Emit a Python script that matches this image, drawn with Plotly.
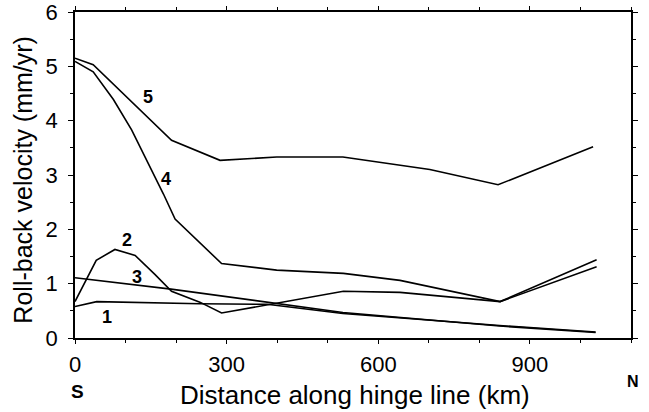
import plotly.graph_objects as go

# Series data (distance km, roll-back velocity mm/yr)
x5 = [0, 36, 191, 287, 399, 530, 702, 837, 1025]
y5 = [5.15, 5.03, 3.64, 3.27, 3.33, 3.33, 3.10, 2.82, 3.52]

x4 = [0, 36, 76, 112, 175, 198, 290, 399, 531, 643, 841, 1032]
y4 = [5.09, 4.90, 4.39, 3.83, 2.65, 2.19, 1.37, 1.25, 1.19, 1.06, 0.67, 1.44]

x2 = [0, 42, 79, 119, 158, 191, 247, 290, 531, 643, 841, 1032]
y2 = [0.67, 1.43, 1.63, 1.52, 1.17, 0.86, 0.66, 0.46, 0.86, 0.84, 0.67, 1.31]

x3 = [0, 190, 530, 840, 1030]
y3 = [1.11, 0.90, 0.47, 0.22, 0.10]

x1 = [0, 43, 247, 380, 530, 840, 1030]
y1 = [0.58, 0.67, 0.63, 0.62, 0.45, 0.23, 0.11]

series = [(x1, y1), (x2, y2), (x3, y3), (x4, y4), (x5, y5)]

label_names = ["5", "4", "2", "3", "1"]
label_x = [144, 180, 102, 122, 63]
label_y = [4.44, 2.93, 1.80, 1.13, 0.39]

x_ticks = [0, 300, 600, 900]
y_ticks = [0, 1, 2, 3, 4, 5, 6]

x_title = "Distance along hinge line (km)"
y_title = "Roll-back velocity (mm/yr)"

FONT = "Liberation Sans, Arial, sans-serif"

fig = go.Figure()
for xs, ys in series:
    fig.add_trace(go.Scatter(x=xs, y=ys, mode="lines",
                             line=dict(color="black", width=1.6),
                             showlegend=False, hoverinfo="skip"))

for name, lx, ly in zip(label_names, label_x, label_y):
    fig.add_annotation(x=lx, y=ly, text="<b>%s</b>" % name, showarrow=False,
                       xanchor="center", yanchor="middle",
                       font=dict(family=FONT, size=18, color="black"))

# S / N markers
fig.add_annotation(xref="paper", yref="paper", x=0.005, y=-0.163, text="<b>S</b>",
                   showarrow=False, xanchor="center", yanchor="middle",
                   font=dict(family=FONT, size=19, color="black"))
fig.add_annotation(xref="paper", yref="paper", x=1.003, y=-0.132, text="<b>N</b>",
                   showarrow=False, xanchor="center", yanchor="middle",
                   font=dict(family=FONT, size=16, color="black"))

# axis titles
fig.add_annotation(xref="paper", yref="paper", x=0.504, y=-0.176, text=x_title,
                   showarrow=False, xanchor="center", yanchor="middle",
                   font=dict(family=FONT, size=26, color="black"))
fig.add_annotation(xref="paper", yref="paper", x=-0.094, y=0.485, text=y_title,
                   showarrow=False, xanchor="center", yanchor="middle", textangle=-90,
                   font=dict(family=FONT, size=25, color="black"))

fig.update_layout(
    width=649, height=412,
    margin=dict(l=75, r=18, t=12, b=74),
    paper_bgcolor="white", plot_bgcolor="white",
    font=dict(family=FONT, color="black"),
)
fig.update_xaxes(
    range=[0, 1100], tickvals=x_ticks, ticktext=[str(v) for v in x_ticks],
    showgrid=False, zeroline=False, showline=True, linecolor="black", linewidth=1.5,
    mirror="ticks", ticks="outside", ticklen=4, tickcolor="black",
    minor=dict(dtick=100, ticks="outside", ticklen=3, tickcolor="black"),
    tickfont=dict(size=22), ticklabelstandoff=2, automargin=False,
    ticklabeloverflow="allow",
)
fig.update_yaxes(
    range=[0, 6], tickvals=y_ticks, ticktext=[str(v) for v in y_ticks],
    showgrid=False, zeroline=False, showline=True, linecolor="black", linewidth=1.5,
    mirror="ticks", ticks="outside", ticklen=5, tickcolor="black",
    minor=dict(dtick=0.5, ticks="outside", ticklen=3, tickcolor="black"),
    tickfont=dict(size=22), ticklabelstandoff=6, automargin=False,
    ticklabeloverflow="allow",
)

fig.write_html("out.html")
